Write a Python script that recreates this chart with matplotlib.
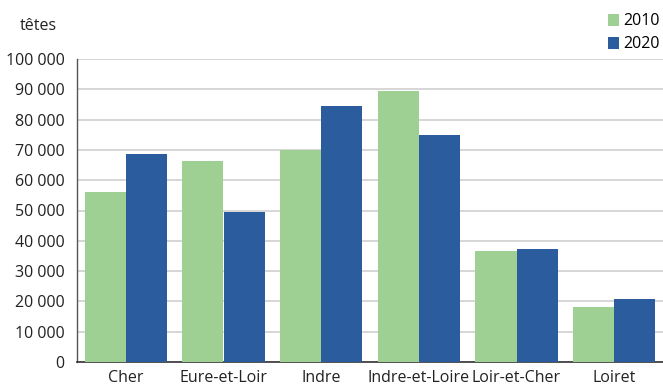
import numpy as np
import matplotlib.pyplot as plt
from matplotlib.ticker import FuncFormatter

# données (têtes)
departements = ['Cher', 'Eure-et-Loir', 'Indre', 'Indre-et-Loire', 'Loir-et-Cher', 'Loiret']
v2010 = [56000, 66300, 70000, 89300, 36500, 18000]
v2020 = [68800, 49400, 84400, 74900, 37200, 20800]

vert = '#9dd092'
bleu = '#2b5c9e'
fs = 11.5

plt.rcParams['font.family'] = ['Open Sans', 'DejaVu Sans']

fig = plt.figure(figsize=(6.63, 3.90), dpi=100)
ax = fig.add_axes([77 / 663, 28 / 390, 586 / 663, 303 / 390])

x = np.arange(len(departements))
w = 0.42
ax.bar(x - w / 2, v2010, w, color=vert, label='2010', zorder=3)
ax.bar(x + w / 2, v2020, w, color=bleu, label='2020', zorder=3)

ax.set_xlim(-0.5, len(departements) - 0.5)
ax.set_ylim(0, 100000)
ax.set_yticks(np.arange(0, 100001, 10000))
ax.yaxis.set_major_formatter(FuncFormatter(lambda v, p: f'{int(v):,}'.replace(',', ' ')))
ax.set_xticks(x)
ax.set_xticklabels(departements)
ax.tick_params(axis='both', length=0, labelsize=fs, colors='#222222')
ax.tick_params(axis='y', pad=9)
ax.tick_params(axis='x', pad=6)

ax.grid(axis='y', color='#d0d0d0', linewidth=1.2, zorder=0)
for s in ['top', 'right']:
    ax.spines[s].set_visible(False)
ax.spines['left'].set_color('#555555')
ax.spines['bottom'].set_color('#333333')
ax.spines['left'].set_linewidth(1)
ax.spines['bottom'].set_linewidth(1.2)

fig.text(20 / 663, 1 - 26 / 390, 'têtes', fontsize=fs, color='#222222', va='center')

ax.legend(loc='upper right', bbox_to_anchor=(1.0, 1 + 49 / 303), frameon=False,
          fontsize=fs, handlelength=0.65, handleheight=0.8, handletextpad=0.3,
          labelspacing=0.45, borderaxespad=0, borderpad=0.2)

fig.savefig('out.png', dpi=100)
